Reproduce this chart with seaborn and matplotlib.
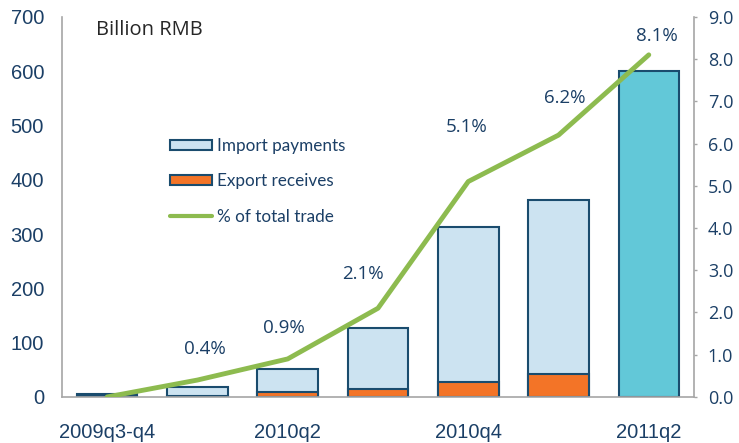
import matplotlib
matplotlib.use("Agg")
import matplotlib.pyplot as plt
from matplotlib.patches import Patch
from matplotlib.lines import Line2D
import numpy as np
import pandas as pd
import seaborn as sns

# данные
quarters = ['2009q3-q4', '2010q1', '2010q2', '2010q3', '2010q4', '2011q1', '2011q2']
tick_labels = ['2009q3-q4', '', '2010q2', '', '2010q4', '', '2011q2']
totals = [5, 19, 51, 127, 313, 362, 600]      # import + export, billion RMB
exports = [1, 1, 9, 14, 28, 42, 0]
share_of_trade = [0.0, 0.4, 0.9, 2.1, 5.1, 6.2, 8.1]   # % of total trade

navy = '#1B3F66'
edge = '#1A4C6E'
light_blue = '#CCE3F1'
orange = '#F37427'
cyan = '#62C8D8'
green = '#8DBB4F'
grey = '#A6A6A6'

df = pd.DataFrame({'quarter': quarters, 'total': totals, 'export': exports})

sns.set_style('white')
fig = plt.figure(figsize=(7.39, 4.43), dpi=100)
ax = fig.add_axes([0.084, 0.104, 0.855, 0.858])

# итоговые столбцы (импорт сверху), последний целиком голубой
bar_colors = [light_blue] * 6 + [cyan]
sns.barplot(data=df, x='quarter', y='total', hue='quarter', palette=bar_colors,
            legend=False, width=0.67, saturation=1, edgecolor=edge, linewidth=1.5, ax=ax)
# экспорт снизу
exp_df = df[df['export'] > 0]
sns.barplot(data=exp_df, x='quarter', y='export', color=orange, order=quarters,
            width=0.67, saturation=1, edgecolor=edge, linewidth=1.5, ax=ax)

ax.set_xlim(-0.5, 6.5)
ax.set_ylim(0, 700)
ax.set_yticks(range(0, 701, 100))
ax.set_xlabel('')
ax.set_ylabel('')
ax.set_xticks(range(7))
ax.set_xticklabels(tick_labels, fontfamily='Liberation Sans', fontsize=14.5, color=navy)
ax.set_xticks(np.arange(-0.5, 7, 1), minor=True)
ax.tick_params(axis='x', which='major', length=0, pad=19)
ax.tick_params(axis='x', which='minor', length=5, color=grey, width=1, direction='out')
ax.tick_params(axis='y', length=0, pad=13)
for lab in ax.get_yticklabels():
    lab.set_fontfamily('Liberation Sans')
    lab.set_fontsize(14.5)
    lab.set_color(navy)
for side in ['top', 'right']:
    ax.spines[side].set_visible(False)
for side in ['left', 'bottom']:
    ax.spines[side].set_color(grey)
    ax.spines[side].set_linewidth(1.2)

# доля в общей торговле
ax2 = ax.twinx()
sns.lineplot(x=np.arange(7), y=share_of_trade, color=green, linewidth=3.5, ax=ax2)
ax2.set_ylim(0, 9)
ax2.set_yticks(np.arange(0, 9.1, 1))
ax2.set_yticklabels([f'{v:.1f}' for v in np.arange(0, 9.1, 1)],
                    fontfamily='Open Sans', fontsize=13, color=navy)
ax2.tick_params(axis='y', length=2.5, color=grey, width=1, direction='out', pad=7.5)
for side in ['top', 'left', 'bottom']:
    ax2.spines[side].set_visible(False)
ax2.spines['right'].set_color(grey)
ax2.spines['right'].set_linewidth(1.2)

# подписи процентов (сдвиг в пунктах)
label_offsets = [None, (5, 22), (-3, 22), (-11, 24.5), (-1.5, 39), (4.3, 27), (5.8, 13.7)]
for i, (v, off) in enumerate(zip(share_of_trade, label_offsets)):
    if off is None:
        continue
    ax2.annotate(f'{v:.1f}%', (i, v), xytext=off, textcoords='offset points',
                 ha='center', va='center', fontfamily='Open Sans', fontsize=13.5,
                 color=navy)

ax.text(0.054, 0.966, 'Billion RMB', transform=ax.transAxes, fontfamily='Open Sans',
        fontsize=14.5, color='#262626', va='center')

handles = [Patch(facecolor=light_blue, edgecolor=edge, linewidth=1.5),
           Patch(facecolor=orange, edgecolor=edge, linewidth=1.5),
           Line2D([], [], color=green, linewidth=3)]
ax.legend(handles, ['Import payments', 'Export receives', '% of total trade'],
          loc='upper left', bbox_to_anchor=(0.171, 0.682), frameon=False,
          prop={'family': 'Lato', 'size': 12.3}, labelcolor=navy,
          handlelength=2.45, handleheight=0.55, handletextpad=0.3,
          labelspacing=1.15, borderpad=0, borderaxespad=0)

fig.savefig('out.png', dpi=100)
